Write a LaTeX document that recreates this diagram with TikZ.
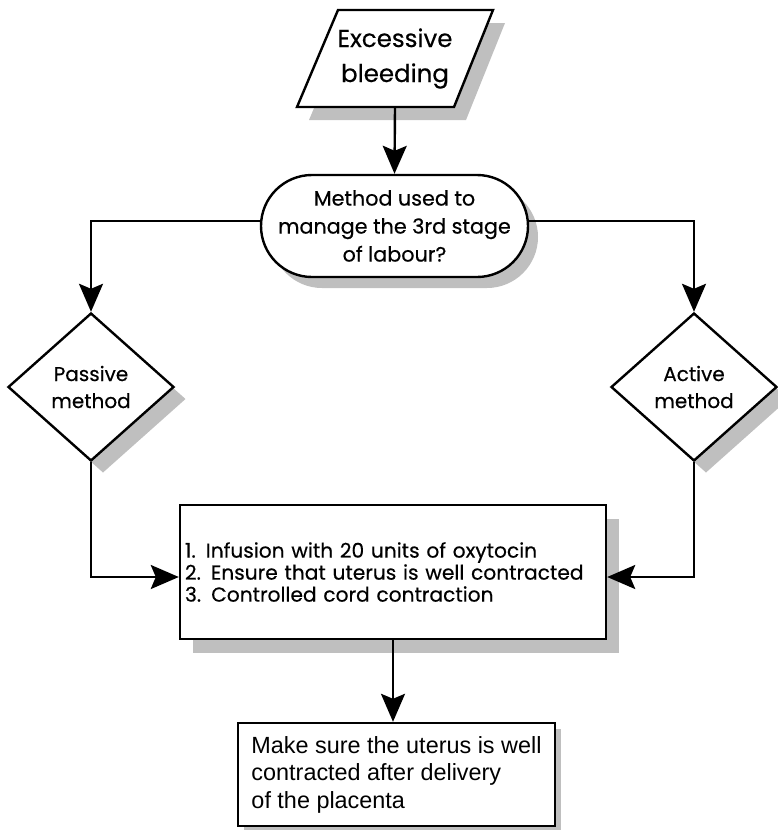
\documentclass[tikz,border=0pt]{standalone}
\usepackage{fontspec}
\setmainfont{Poppins}[FakeBold=0.4]
\newfontfamily\arialfont{Liberation Sans}
\usetikzlibrary{shapes.geometric,arrows.meta}
\begin{document}
\begin{tikzpicture}[x=1pt,y=-1pt,
  line width=2.4pt,
  shade/.style={fill=gray!50,draw=none},
  box/.style={draw=black,fill=white},
  paratext/.style={inner sep=0pt,align=center,font=\fontsize{24.5}{35}\selectfont},
  term/.style={rectangle,rounded corners=51pt,minimum width=267pt,minimum height=102pt,
    inner sep=0pt,align=center,font=\fontsize{20.7}{28}\selectfont},
  decide/.style={diamond,aspect=1.12,minimum width=166pt,minimum height=148pt,inner sep=0pt,
    align=center,font=\fontsize{20}{27}\selectfont},
  stepbox/.style={rectangle,text width=416pt,inner xsep=5pt,minimum height=134pt,
    align=left,font=\fontsize{20.2}{22}\selectfont},
  endbox/.style={rectangle,minimum width=317pt,inner xsep=0pt,minimum height=103pt,
    align=left,font=\arialfont\fontsize{23.4}{27.5}\selectfont},
  conn/.style={draw=black,line width=2.4pt,-{Stealth[length=28pt,width=24pt,inset=5pt]}}
]
\useasboundingbox (0,0) rectangle (777,830);
% parallelogram corners
\coordinate (pTL) at (338,10);
\coordinate (pTR) at (493,10);
\coordinate (pBR) at (454,107);
\coordinate (pBL) at (297,107);
\coordinate (paraB) at (395,107);
% shadows
\fill[gray!50] ([shift={(12,13)}]pTL) -- ([shift={(12,13)}]pTR) -- ([shift={(12,13)}]pBR) -- ([shift={(12,13)}]pBL) -- cycle;
\node[term,shade] (termS) at (404.5,237) {};
\node[decide,shade] (pasS) at (103,399) {};
\node[decide,shade] (actS) at (706,399) {};
\node[stepbox,shade] (rectS) at (406,586) {};
\node[endbox,shade] (finalS) at (402.5,780.5) {};
% main nodes
\draw[box,line join=miter] (pTL) -- (pTR) -- (pBR) -- (pBL) -- cycle;
\node[paratext] (para) at (395,58.5) {Excessive\\bleeding};
\node[term,box] (term) at (394.5,226) {Method used to\\manage the 3rd stage\\of labour?};
\node[decide,box] (pas) at (91,387) {Passive\\method};
\node[decide,box] (act) at (694,387) {Active\\method};
\node[stepbox,box] (rect) at (393,572) {1. Infusion with 20 units of oxytocin\\2. Ensure that uterus is well contracted\\3. Controlled cord contraction};
\node[endbox,box] (final) at (396.5,774.5) {Make sure the uterus is well\\contracted after delivery\\of the placenta};
% connectors
\draw[conn] (paraB) -- (term.north);
\draw[conn] ([yshift=5pt]term.west) -| (pas.north);
\draw[conn] ([yshift=5pt]term.east) -| (act.north);
\draw[conn] (pas.south) |- ([yshift=-5pt]rect.west);
\draw[conn] (act.south) |- ([yshift=-5pt]rect.east);
\draw[conn] (rect.south) -- (rect.south |- final.north);
\end{tikzpicture}
\end{document}
